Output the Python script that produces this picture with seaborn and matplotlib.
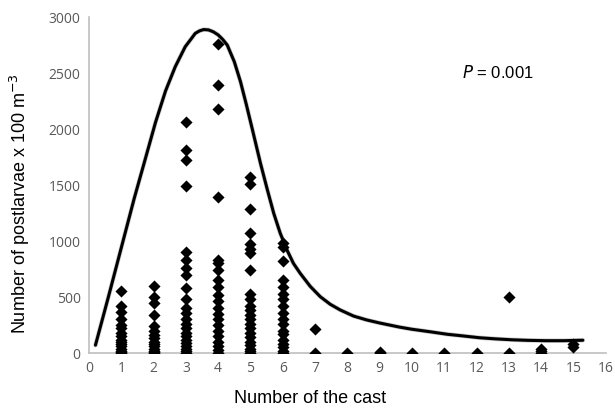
import pandas as pd
import matplotlib.pyplot as plt
import seaborn as sns

# counts per cast number
x1 = [550, 420, 370, 300, 250, 220, 180, 150, 120, 100, 80, 60, 40, 20, 10, 0]
x2 = [600, 500, 450, 340, 240, 200, 160, 130, 100, 80, 60, 40, 20, 10, 0]
x3 = [2060, 1810, 1720, 1490, 900, 830, 760, 700, 580, 480, 400, 360, 300,
      260, 220, 180, 150, 120, 90, 60, 40, 20, 0]
x4 = [2760, 2390, 2180, 1390, 830, 800, 740, 650, 590, 520, 460, 400, 350,
      300, 250, 200, 150, 100, 60, 30, 0]
x5 = [1570, 1510, 1290, 1070, 970, 930, 890, 740, 530, 480, 420, 380, 340,
      300, 260, 220, 180, 140, 100, 70, 40, 20, 0]
x6 = [980, 950, 820, 650, 590, 530, 480, 420, 360, 300, 260, 200, 170, 120,
      80, 50, 20, 0]
x7 = [210, 0]
x8 = [0]
x9 = [10, 0]
x10 = [0]
x11 = [0]
x12 = [0]
x13 = [500, 0]
x14 = [40, 20, 0]
x15 = [80, 55]

groups = [x1, x2, x3, x4, x5, x6, x7, x8, x9, x10, x11, x12, x13, x14, x15]
rows = []
for i, vals in enumerate(groups, start=1):
    for v in vals:
        rows.append((i, v))
df = pd.DataFrame(rows, columns=['cast', 'postlarvae'])

# fitted curve, points
curve_x = [0.2, 0.6, 1.0, 1.4, 1.75, 2.06, 2.37, 2.67, 2.98, 3.15, 3.29, 3.42,
           3.55, 3.7, 3.85, 4.0, 4.14, 4.28, 4.5, 4.69, 4.87, 5.05, 5.31,
           5.52, 5.72, 5.92, 6.13, 6.33, 6.54, 6.85, 7.16, 7.47, 7.78, 8.19,
           8.6, 9.0, 9.6, 10.0, 10.6, 11.1, 11.5, 12.1, 12.6, 13.1, 13.6,
           14.15, 14.7, 15.29]
curve_y = [70, 500, 940, 1380, 1740, 2060, 2340, 2556, 2735, 2800, 2854, 2876,
           2888, 2885, 2868, 2840, 2800, 2750, 2600, 2423, 2220, 2006, 1693,
           1460, 1247, 1070, 920, 800, 711, 595, 503, 435, 384, 330, 295,
           268, 232, 212, 188, 167, 155, 136, 126, 118, 113, 110, 110, 114]
fit = pd.DataFrame({'cast': curve_x, 'postlarvae': curve_y})

sns.set_style('white')
plt.rcParams['font.family'] = ['Liberation Sans', 'DejaVu Sans']

fig = plt.figure(figsize=(6.15, 4.12), dpi=100)
ax = fig.add_axes([0.1447, 0.1432, 0.8403, 0.8155])

# faint grey shadow under the curve, then the curve itself
sns.lineplot(x='cast', y='postlarvae', data=fit, sort=False, estimator=None,
             color='#9a9a9a', linewidth=3.2, alpha=0.5, ax=ax)
sns.lineplot(x='cast', y='postlarvae', data=fit, sort=False, estimator=None,
             color='black', linewidth=2.2, ax=ax)
sns.scatterplot(x='cast', y='postlarvae', data=df, marker='D', color='black',
                s=38, edgecolor='black', linewidth=0, ax=ax, zorder=3)

ax.set_xlim(0, 16)
ax.set_ylim(0, 3000)
ax.set_xticks(range(0, 17))
ax.set_yticks(range(0, 3001, 500))
ax.tick_params(axis='both', length=0, colors='#595959', pad=6)
for lab in ax.get_xticklabels() + ax.get_yticklabels():
    lab.set_family(['Open Sans', 'DejaVu Sans'])
    lab.set_fontsize(10)

for s in ['top', 'right']:
    ax.spines[s].set_visible(False)
for s in ['left', 'bottom']:
    ax.spines[s].set_color('#bfbfbf')
    ax.spines[s].set_linewidth(1.2)

ax.set_xlabel('Number of the cast', fontsize=13, color='black')
ax.set_ylabel('Number of postlarvae x 100 m$^{-3}$', fontsize=13, color='black')
ax.xaxis.set_label_coords(0.427, -0.134)
ax.yaxis.set_label_coords(-0.133, 0.446)
ax.get_xaxis().label.set_va('center')
ax.get_yaxis().label.set_va('center')
ax.text(0.722, 0.836, '$P$ = 0.001', transform=ax.transAxes, fontsize=12,
        color='black', va='center')

fig.savefig('out.png', dpi=100)
